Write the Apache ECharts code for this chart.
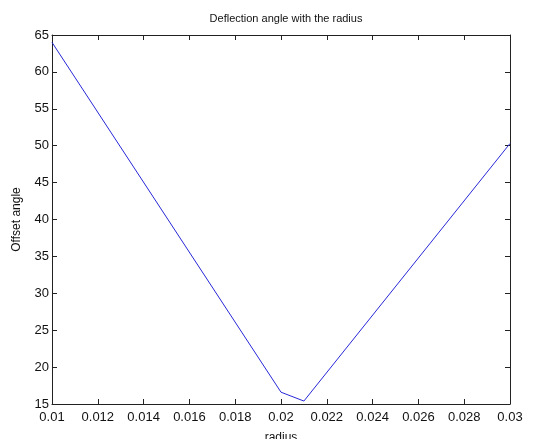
<!DOCTYPE html>
<html>
<head>
<meta charset="utf-8">
<script src="https://cdn.jsdelivr.net/npm/echarts@6/dist/echarts.min.js"></script>
<style>
  html, body { margin: 0; padding: 0; background: #fff; }
  #chart { width: 536px; height: 439px; }
</style>
</head>
<body>
<div id="chart"></div>
<script>
// data
var radius = [0.01, 0.02, 0.021, 0.03]
var offsetAngle = [64, 16.6, 15.4, 50.3]
var xTicks = { min: 0.01, max: 0.03, step: 0.002 }
var yTicks = { min: 15, max: 65, step: 5 }

var points = radius.map(function (r, i) { return [r, offsetAngle[i]] })

var chart = echarts.init(document.getElementById('chart'))

var font = 'Liberation Sans, Arial, sans-serif'
var axisCommon = {
  axisLine: { lineStyle: { color: '#222', width: 1 } },
  axisTick: { inside: true, length: 5, lineStyle: { color: '#222' } },
  splitLine: { show: false }
}

var option = {
  backgroundColor: '#fff',
  animation: false,
  title: {
    text: 'Deflection angle with the radius',
    left: 281,
    textAlign: 'center',
    top: 8,
    textStyle: { fontFamily: font, fontSize: 11, fontWeight: 'normal', color: '#111' }
  },
  // no auto shrinking: the axis name may run off the bottom like the original
  grid: { left: 52, right: 26, top: 35, bottom: 35, containLabel: false, outerBoundsMode: 'none' },
  xAxis: [
    Object.assign({
      type: 'value',
      min: xTicks.min,
      max: xTicks.max,
      interval: xTicks.step,
      name: 'radius',
      nameLocation: 'middle',
      nameGap: 28,
      nameTextStyle: { fontFamily: font, fontSize: 12, color: '#111' },
      axisLabel: {
        margin: 7,
        fontFamily: font,
        fontSize: 13,
        color: '#111',
        formatter: function (v) { return String(+v.toFixed(3)) }
      }
    }, axisCommon),
    Object.assign({
      type: 'value',
      position: 'top',
      min: xTicks.min,
      max: xTicks.max,
      interval: xTicks.step,
      axisLabel: { show: false }
    }, axisCommon)
  ],
  yAxis: [
    Object.assign({
      type: 'value',
      min: yTicks.min,
      max: yTicks.max,
      interval: yTicks.step,
      name: 'Offset angle',
      nameLocation: 'middle',
      nameGap: 29,
      nameTextStyle: { fontFamily: font, fontSize: 12, color: '#111' },
      axisLabel: { margin: 3, fontFamily: font, fontSize: 13, color: '#111' }
    }, axisCommon),
    Object.assign({
      type: 'value',
      position: 'right',
      min: yTicks.min,
      max: yTicks.max,
      interval: yTicks.step,
      axisLabel: { show: false }
    }, axisCommon)
  ],
  series: [
    {
      type: 'line',
      data: points,
      xAxisIndex: 0,
      yAxisIndex: 0,
      showSymbol: false,
      lineStyle: { color: '#2828d8', width: 1 }
    }
  ]
}

chart.setOption(option)
</script>
</body>
</html>
